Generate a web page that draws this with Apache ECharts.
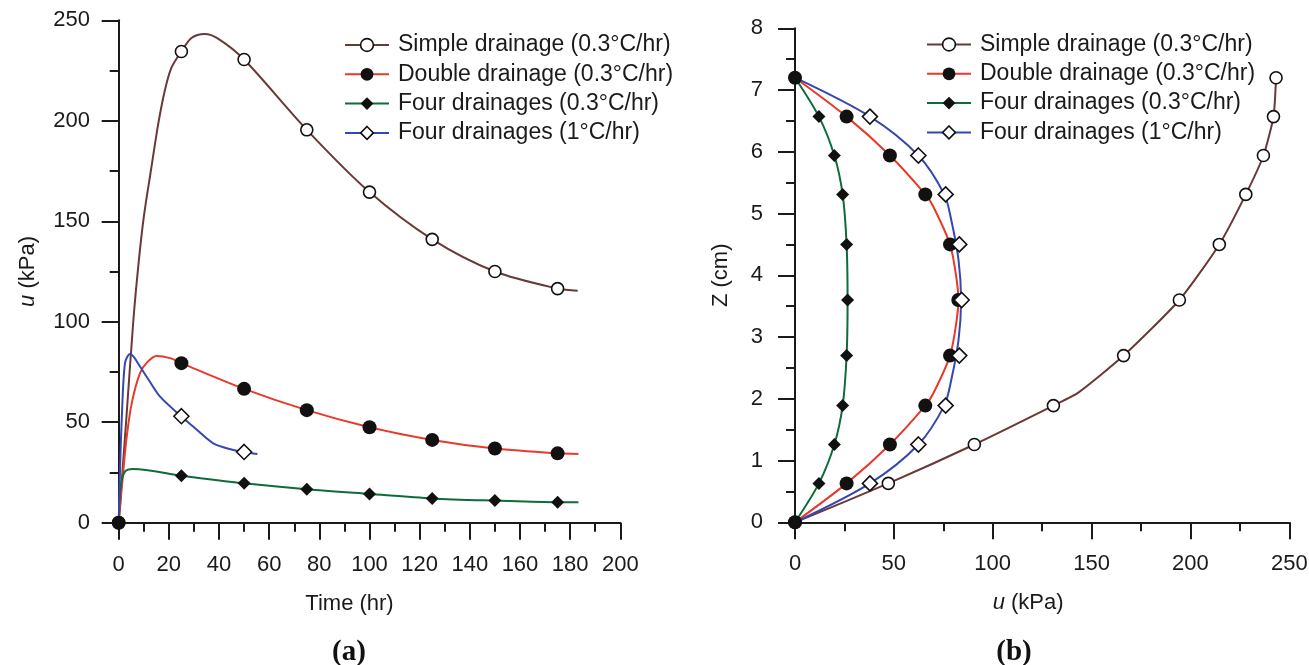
<!DOCTYPE html>
<html>
<head>
<meta charset="utf-8">
<script src="https://cdn.jsdelivr.net/npm/echarts@6/dist/echarts.min.js"></script>
<style>
  html, body { margin: 0; padding: 0; background: #fff; }
  #chart { width: 1309px; height: 665px; }
</style>
</head>
<body>
<div id="chart"></div>
<script>
// Series labels
const seriesNames = [
  'Simple drainage (0.3°C/hr)',
  'Double drainage (0.3°C/hr)',
  'Four drainages (0.3°C/hr)',
  'Four drainages (1°C/hr)'
];

// ---------- (a) pore pressure u (kPa) versus time (hr) ----------
// curve samples
const simpleCurveT = [0, 3, 5.8, 8, 10.1, 13, 15.7, 18.3, 21, 25, 29, 34.3, 39.6, 50, 75, 100, 125, 150, 175, 183];
const simpleCurveU = [0, 51, 100, 130, 153, 176.5, 198, 214.6, 226.3, 234.5, 241.2, 243.2, 240.9, 230.5, 195.5, 164.5, 141, 125, 116.5, 115.4];
const doubleCurveT = [0, 1.85, 3.2, 5.2, 8.5, 11.5, 15.1, 20.5, 25, 50, 75, 100, 125, 150, 175, 183.3];
const doubleCurveU = [0, 26, 42.8, 59.5, 74.4, 80, 83, 81.9, 79.4, 66.6, 56, 47.5, 41.2, 36.9, 34.5, 34.2];
const four03CurveT = [0, 0.8, 2.5, 5.8, 25, 50, 75, 100, 125, 150, 175, 183.3];
const four03CurveU = [0, 18, 25.4, 26.7, 23.4, 19.6, 16.6, 14.3, 12.1, 11, 10.2, 10.2];
const four1CurveT = [0, 0.5, 1.2, 2.5, 4.5, 6, 8.5, 12, 16.5, 25, 30, 37.7, 45, 50, 55.3];
const four1CurveU = [0, 25, 51, 79.4, 83.9, 82.5, 77.7, 71, 62.7, 52.8, 47.5, 39.5, 36.4, 35.2, 34.2];

// marked points
const markTime = [0, 25, 50, 75, 100, 125, 150, 175];
const simpleMarkU = [0, 234.5, 230.5, 195.5, 164.5, 141, 125, 116.5];
const doubleMarkU = [0, 79.4, 66.6, 56, 47.5, 41.2, 36.9, 34.5];
const four03MarkU = [0, 23.4, 19.6, 16.6, 14.3, 12.1, 11, 10.2];
const four1MarkTime = [25, 50];
const four1MarkU = [53, 35.2];

// ---------- (b) depth Z (cm) versus pore pressure u (kPa) ----------
const simpleLineZ = [0, 0.63, 1.26, 1.89, 2.1, 2.7, 3.6, 4.5, 5.31, 5.94, 6.57, 7.2];
const simpleLineU = [0, 47.2, 90.7, 130.7, 143.3, 166.2, 194.4, 214.6, 228, 236.9, 242, 243.3];
const doubleLineZ = [0, 0.63, 1.26, 1.89, 2.09, 2.7, 3.28, 3.6, 3.92, 4.5, 5.11, 5.31, 5.94, 6.57, 7.2];
const doubleLineU = [0, 26.1, 48, 65.9, 70, 78.4, 81.8, 82.6, 81.8, 78.4, 70, 65.9, 48, 26.1, 0];
const four03LineZ = [0, 0.63, 1.26, 1.89, 2.7, 3.6, 4.5, 5.31, 5.94, 6.57, 7.2];
const four03LineU = [0, 12.1, 19.9, 24.1, 26.1, 26.6, 26.1, 24.1, 19.9, 12.1, 0];
const four1LineZ = [0, 0.63, 1.26, 1.89, 2.3, 2.95, 3.6, 4.25, 4.9, 5.31, 5.94, 6.57, 7.2];
const four1LineU = [0, 37.9, 62.4, 75.5, 79, 82.7, 84, 82.7, 79, 75.5, 62.4, 37.9, 0];

const markZ = [0, 0.63, 1.26, 1.89, 2.7, 3.6, 4.5, 5.31, 5.94, 6.57, 7.2];
const simpleMarkDepthU = [0, 47.2, 90.7, 130.7, 166.2, 194.4, 214.6, 228, 236.9, 242, 243.3];
const doubleMarkDepthU = [0, 26.1, 48, 65.9, 78.4, 82.6, 78.4, 65.9, 48, 26.1, 0];
const four03MarkDepthU = [0, 12.1, 19.9, 24.1, 26.1, 26.6, 26.1, 24.1, 19.9, 12.1, 0];
const four1MarkZ = [0.63, 1.26, 1.89, 2.7, 3.6, 4.5, 5.31, 5.94, 6.57];
const four1MarkDepthU = [37.9, 62.4, 76.2, 83.1, 84.3, 83.1, 76.2, 62.4, 37.9];

// axis ticks
const timeTicks = { min: 0, max: 200, interval: 20 };
const uTicksA = { min: 0, max: 250, interval: 50 };
const uTicksB = { min: 0, max: 250, interval: 50 };
const zTicks = { min: 0, max: 8, interval: 1 };

// ---------- styling ----------
const FONT = '"Liberation Sans", Arial, sans-serif';
const INK = '#1a1a1a';
const lineColors = ['#6b3838', '#e8392b', '#0e6b3a', '#3548b0'];
const markerStyles = [
  { symbol: 'circle', size: 12, itemStyle: { color: '#ffffff', borderColor: '#111', borderWidth: 1.6, opacity: 1 } },
  { symbol: 'circle', size: 14, itemStyle: { color: '#111', borderColor: '#111', borderWidth: 0, opacity: 1 } },
  { symbol: 'diamond', size: 13, itemStyle: { color: '#111', borderColor: '#111', borderWidth: 0, opacity: 1 } },
  { symbol: 'diamond', size: 15, itemStyle: { color: '#ffffff', borderColor: '#111', borderWidth: 1.6, opacity: 1 } }
];

function zip(a, b) { return a.map((v, i) => [v, b[i]]); }

function lineSeries(k, data, xi, yi, smooth) {
  const m = markerStyles[k];
  return {
    type: 'line', name: seriesNames[k], xAxisIndex: xi, yAxisIndex: yi,
    data: data, smooth: smooth,
    symbol: m.symbol, showSymbol: false, symbolSize: m.size,
    itemStyle: m.itemStyle,
    lineStyle: { color: lineColors[k], width: 2 },
    emphasis: { disabled: true }, silent: true, animation: false, z: 2
  };
}
function markSeries(k, data, xi, yi) {
  const m = markerStyles[k];
  return {
    type: 'scatter', name: seriesNames[k], xAxisIndex: xi, yAxisIndex: yi,
    data: data, symbol: m.symbol, symbolSize: m.size, itemStyle: m.itemStyle,
    emphasis: { disabled: true }, silent: true, animation: false, z: 3
  };
}

function valueAxis(gridIndex, ticks, labelMargin, extra) {
  return Object.assign({
    type: 'value', gridIndex: gridIndex,
    min: ticks.min, max: ticks.max, interval: ticks.interval,
    axisLine: { show: true, onZero: false, lineStyle: { color: INK, width: 2 } },
    axisTick: { show: true, inside: false, length: 17, lineStyle: { color: INK, width: 2 } },
    minorTick: { show: true, splitNumber: 2, length: 9, lineStyle: { color: INK, width: 2 } },
    axisLabel: { margin: labelMargin, fontSize: 22, fontFamily: FONT, color: INK },
    splitLine: { show: false },
    minorSplitLine: { show: false }
  }, extra);
}

const uName = {
  name: '{i|u} (kPa)',
  nameTextStyle: {
    fontSize: 22, fontFamily: FONT, color: INK,
    rich: { i: { fontStyle: 'italic', fontSize: 22, fontFamily: FONT, color: INK } }
  }
};

function legendFor(left, top) {
  return {
    orient: 'vertical', left: left, top: top, padding: 0,
    itemWidth: 44, itemHeight: 16, itemGap: 5.3,
    selectedMode: false,
    textStyle: { fontSize: 23, fontFamily: FONT, color: INK, lineHeight: 24, padding: [0, 0, 0, 4] },
    data: seriesNames.map((n, k) => ({
      name: n,
      itemStyle: markerStyles[k].itemStyle,
      lineStyle: { color: lineColors[k], width: 2 }
    }))
  };
}

const option = {
  animation: false,
  backgroundColor: '#ffffff',
  grid: [
    { left: 118.7, right: 688.7, top: 20.3, bottom: 142.3, containLabel: false, outerBoundsMode: 'none' },
    { left: 795, right: 19.7, top: 28.3, bottom: 142.7, containLabel: false, outerBoundsMode: 'none' }
  ],
  xAxis: [
    valueAxis(0, timeTicks, 31, {
      name: 'Time (hr)', nameLocation: 'middle', nameGap: 70,
      nameTextStyle: { fontSize: 22, fontFamily: FONT, color: INK, padding: [0, 40, 0, 0] }
    }),
    valueAxis(1, uTicksB, 31, Object.assign({ nameLocation: 'middle', nameGap: 70 }, uName, {
      nameTextStyle: Object.assign({}, uName.nameTextStyle, { padding: [0, 28, 0, 0] })
    }))
  ],
  yAxis: [
    valueAxis(0, uTicksA, 28.7, Object.assign({ nameLocation: 'middle', nameGap: 80 }, uName)),
    valueAxis(1, zTicks, 32, {
      name: 'Z (cm)', nameLocation: 'middle', nameGap: 63,
      nameTextStyle: { fontSize: 22, fontFamily: FONT, color: INK }
    })
  ],
  legend: [legendFor(344, 33), legendFor(926, 32.5)],
  graphic: [
    { type: 'text', x: 349, y: 653, silent: true,
      style: { text: '(a)', fontSize: 29, fontWeight: 'bold', fontFamily: '"Liberation Serif", "Times New Roman", serif', fill: '#111', align: 'center', verticalAlign: 'middle' } },
    { type: 'text', x: 1014, y: 653, silent: true,
      style: { text: '(b)', fontSize: 29, fontWeight: 'bold', fontFamily: '"Liberation Serif", "Times New Roman", serif', fill: '#111', align: 'center', verticalAlign: 'middle' } }
  ],
  series: [
    // (a)
    lineSeries(0, zip(simpleCurveT, simpleCurveU), 0, 0, 0.3),
    markSeries(0, zip(markTime, simpleMarkU), 0, 0),
    lineSeries(1, zip(doubleCurveT, doubleCurveU), 0, 0, 0.3),
    markSeries(1, zip(markTime, doubleMarkU), 0, 0),
    lineSeries(2, zip(four03CurveT, four03CurveU), 0, 0, 0.3),
    markSeries(2, zip(markTime, four03MarkU), 0, 0),
    lineSeries(3, zip(four1CurveT, four1CurveU), 0, 0, 0.3),
    markSeries(3, zip(four1MarkTime, four1MarkU), 0, 0),
    // (b)
    lineSeries(0, zip(simpleLineU, simpleLineZ), 1, 1, 0.2),
    markSeries(0, zip(simpleMarkDepthU, markZ), 1, 1),
    lineSeries(1, zip(doubleLineU, doubleLineZ), 1, 1, 0.3),
    markSeries(1, zip(doubleMarkDepthU, markZ), 1, 1),
    lineSeries(2, zip(four03LineU, four03LineZ), 1, 1, 0.3),
    markSeries(2, zip(four03MarkDepthU, markZ), 1, 1),
    lineSeries(3, zip(four1LineU, four1LineZ), 1, 1, 0.3),
    markSeries(3, zip(four1MarkDepthU, four1MarkZ), 1, 1)
  ]
};

const chart = echarts.init(document.getElementById('chart'), null, { renderer: 'canvas' });
chart.setOption(option);
</script>
</body>
</html>
